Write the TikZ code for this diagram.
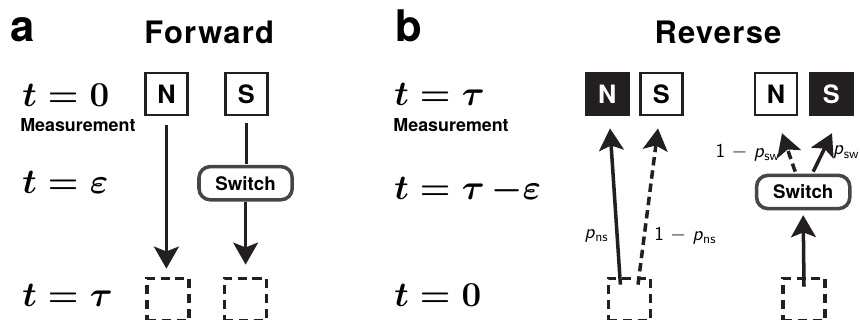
\documentclass[tikz,border=0pt]{standalone}
\usepackage{fontspec}
\newfontfamily\helv{TeX Gyre Heros}
\newfontfamily\helvwide[LetterSpace=4]{TeX Gyre Heros}
\usetikzlibrary{arrows.meta,positioning,calc}
\definecolor{inkgray}{RGB}{35,31,32}
\definecolor{switchgray}{RGB}{70,70,70}

\begin{document}
\begin{tikzpicture}[>=Stealth]
  \tikzset{
    flow/.style={-{Stealth[length=0.55cm,width=0.62cm,inset=0.12cm]}, line width=2.5pt, draw=inkgray},
    dflow/.style={flow, dash pattern=on 6pt off 3.5pt},
    pole/.style={draw=inkgray, line width=2pt, fill=white, minimum size=1.05cm, inner sep=0pt, font=\helv\bfseries\fontsize{18}{18}\selectfont},
    polefill/.style={pole, fill=inkgray, text=white},
    ghost/.style={draw=inkgray, line width=2.2pt, dash pattern=on 6.5pt off 4pt, minimum size=1.05cm, inner sep=0pt},
    switchbox/.style={draw=switchgray, line width=2.5pt, rounded corners=8pt, fill=white, minimum width=2.33cm, minimum height=0.83cm, inner sep=0pt, font=\helv\bfseries\fontsize{13.3}{14}\selectfont},
    tlabel/.style={anchor=base west, inner sep=0pt, font=\boldmath\Huge},
    meas/.style={anchor=base west, inner sep=0pt, font=\helv\bfseries\fontsize{12.7}{14}\selectfont},
    panel/.style={anchor=base west, inner sep=0pt, font=\helv\bfseries\fontsize{31}{32}\selectfont},
    title/.style={anchor=base, inner sep=0pt, font=\helvwide\bfseries\fontsize{22}{24}\selectfont},
    prob/.style={inner sep=0pt, font=\sffamily\fontsize{14}{16}\selectfont}
  }
  \useasboundingbox (0,0) rectangle (21.5,-8);

  % Panel a
  \node[panel] (pa) at (0.25,-1.05) {a};
  \node[title] (fwd) at (5.23,-1.08) {Forward};
  \node[tlabel] (ta0) at (0.55,-2.67) {$t=0$};
  \node[meas] (measa) at (0.5,-3.28) {Measurement};
  \node[tlabel] (taeps) at (0.55,-4.83) {$t=\varepsilon$};
  \node[tlabel] (tatau) at (0.55,-7.67) {$t=\tau$};

  \node[pole] (na) at (4.16,-2.35) {N};
  \node[pole] (sa) at (6.16,-2.35) {S};
  \node[switchbox] (swa) at (6.14,-4.58) {Switch};
  \node[ghost] (gna) at (4.2,-7.48) {};
  \node[ghost] (gsa) at (6.13,-7.48) {};

  \draw[flow, shorten <=0.22cm, shorten >=0.2cm] (na.south) -- (na.south |- gna.north);
  \draw[line width=2.5pt, draw=inkgray, shorten <=0.17cm, shorten >=0.02cm] (sa.south) -- (sa.south |- swa.north);
  \draw[flow, shorten >=0.3cm] (swa.south) -- (swa.south |- gsa.north);

  % Panel b
  \node[panel] (pb) at (9.88,-1.05) {b};
  \node[title] (rev) at (17.95,-1.08) {Reverse};
  \node[tlabel] (tbtau) at (9.85,-2.63) {$t=\tau$};
  \node[meas] (measb) at (9.83,-3.28) {Measurement};
  \node[tlabel] (tbte) at (9.85,-5.0) {$t=\tau\,{-}\varepsilon$};
  \node[tlabel] (tb0) at (9.85,-7.67) {$t=0$};

  \node[polefill] (nb) at (15.18,-2.35) {N};
  \node[pole] (sb) at (16.53,-2.35) {S};
  \node[pole] (nc) at (19.4,-2.35) {N};
  \node[polefill] (sc) at (20.78,-2.35) {S};
  \node[switchbox] (swb) at (20.08,-4.8) {Switch};
  \node[ghost] (gb) at (15.73,-7.48) {};
  \node[ghost] (gc) at (20.1,-7.48) {};

  \draw[flow] ([xshift=-0.22cm,yshift=-0.2cm]gb.north) -- node[prob, pos=0.31, left=5pt] {\textit{p}\textsubscript{ns}} ([xshift=0.07cm,yshift=-0.3cm]nb.south);
  \draw[dflow] ([xshift=0.22cm,yshift=-0.2cm]gb.north) -- node[prob, pos=0.31, right=6pt] {1 $-$ \textit{p}\textsubscript{ns}} ([xshift=-0.08cm,yshift=-0.3cm]sb.south);

  \draw[flow] ([yshift=-0.25cm]gc.north) -- ([yshift=-0.12cm]swb.south);
  \draw[dflow] ([xshift=-0.2cm,yshift=0.05cm]swb.north) -- node[prob, pos=0.5, left=5pt] {1 $-$ \textit{p}\textsubscript{sw}} ([xshift=0.15cm,yshift=-0.42cm]nc.south);
  \draw[flow] ([xshift=0.25cm,yshift=0.05cm]swb.north) -- node[prob, pos=0.5, anchor=west, xshift=0.22cm] {\textit{p}\textsubscript{sw}} ([xshift=0.02cm,yshift=-0.42cm]sc.south);
\end{tikzpicture}
\end{document}
